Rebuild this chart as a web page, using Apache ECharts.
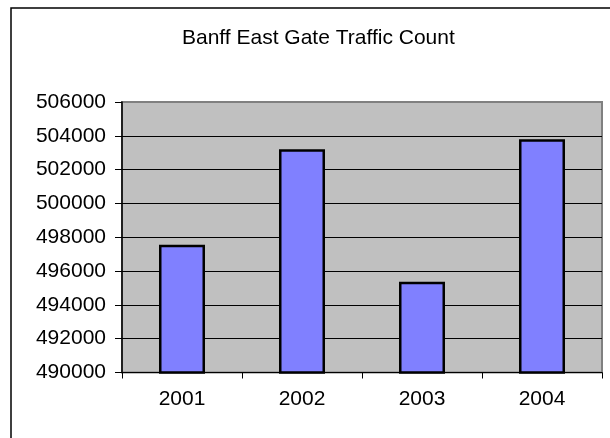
<!DOCTYPE html>
<html>
<head>
<meta charset="utf-8">
<script src="https://cdn.jsdelivr.net/npm/echarts@6/dist/echarts.min.js"></script>
<style>
  html, body { margin: 0; padding: 0; background: #fff; }
  #chart { width: 610px; height: 438px; }
</style>
</head>
<body>
<div id="chart"></div>
<script>
// Yearly vehicle counts at the Banff east gate
const years = ['2001', '2002', '2003', '2004'];
const trafficCounts = [497550, 503210, 495370, 503800];
const yMin = 490000;
const yMax = 506000;
const yStep = 2000;

const FONT = '"Liberation Sans", Arial, sans-serif';

const chart = echarts.init(document.getElementById('chart'), null, { renderer: 'canvas' });

// one colour per split line, counted from the bottom tick; the top one blends into the plot frame
const splitColors = [];
for (let v = yMin; v <= yMax; v += yStep) splitColors.push(v === yMax ? '#808080' : '#000000');

chart.setOption({
  animation: false,
  backgroundColor: '#ffffff',
  title: {
    text: 'Banff East Gate Traffic Count',
    left: 177,
    top: 23,
    textStyle: { fontFamily: FONT, fontSize: 21, fontWeight: 'normal', color: '#000' }
  },
  graphic: [{
    type: 'rect',
    shape: { x: 11, y: 8, width: 800, height: 600 },
    style: { fill: 'none', stroke: '#000', lineWidth: 1.5 },
    silent: true,
    z: -1
  }],
  grid: {
    left: 122,
    right: 8,
    top: 102,
    bottom: 65.5,
    show: true,
    backgroundColor: '#C0C0C0',
    borderColor: '#808080',
    borderWidth: 2
  },
  xAxis: {
    type: 'category',
    data: years,
    axisLine: { show: true, lineStyle: { color: '#000', width: 1 } },
    axisTick: { show: true, alignWithLabel: false, length: 6, lineStyle: { color: '#000' } },
    axisLabel: { fontFamily: FONT, fontSize: 21, color: '#000', margin: 16 },
    splitLine: { show: false }
  },
  yAxis: {
    type: 'value',
    min: yMin,
    max: yMax,
    interval: yStep,
    axisLine: { show: true, lineStyle: { color: '#000', width: 1.5 } },
    axisTick: { show: true, length: 7, lineStyle: { color: '#000' } },
    axisLabel: {
      fontFamily: FONT, fontSize: 21, color: '#000', margin: 16,
      formatter: (v) => String(v)
    },
    splitLine: { show: true, lineStyle: { color: splitColors, width: 1 } }
  },
  series: [{
    type: 'bar',
    data: trafficCounts,
    barWidth: 46,
    itemStyle: { color: '#8080FF', borderColor: '#000', borderWidth: 2.5 }
  }]
});
</script>
</body>
</html>
